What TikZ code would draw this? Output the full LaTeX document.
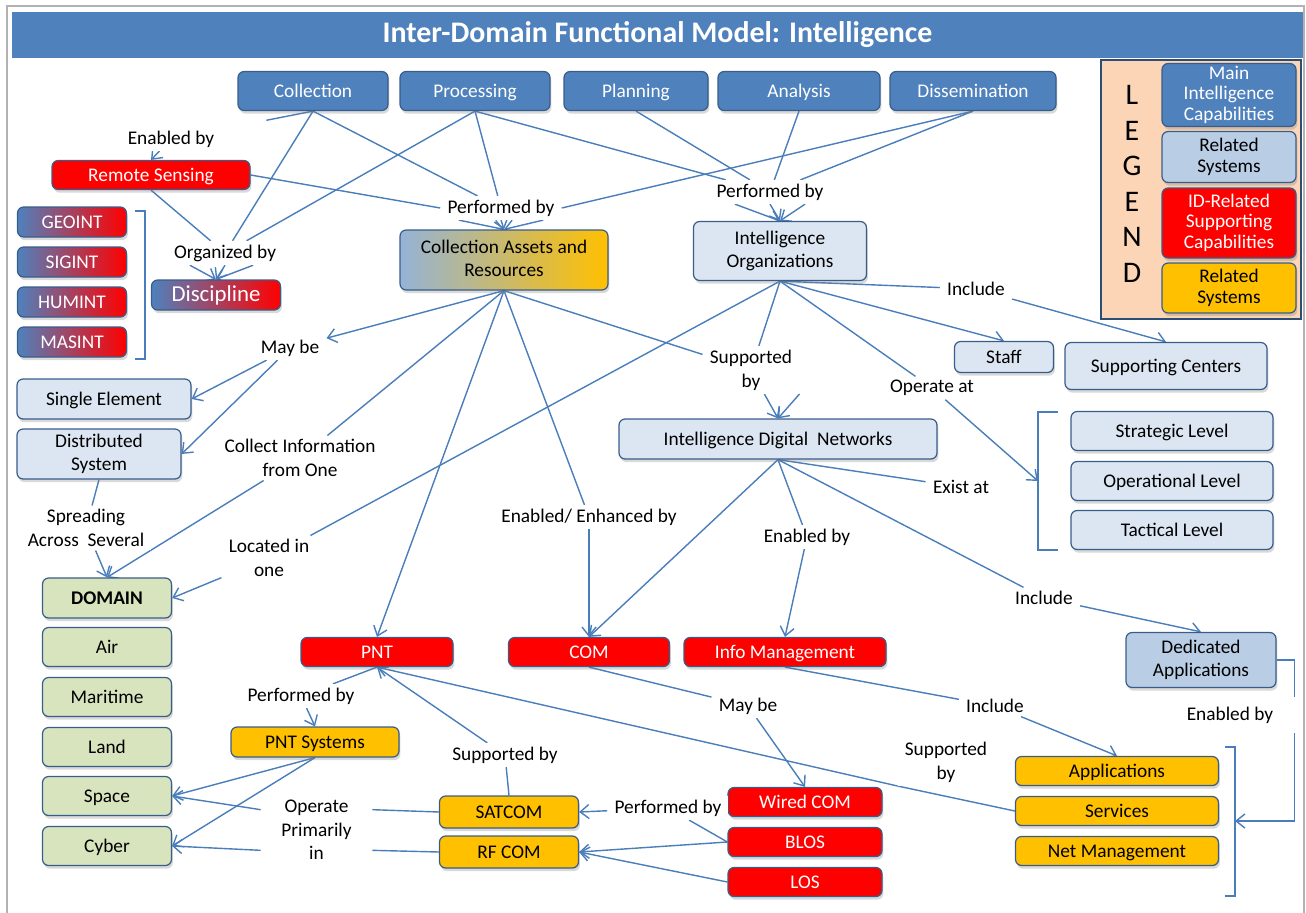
\documentclass[tikz,border=0pt]{standalone}
\usepackage{fontspec}
\setmainfont{Carlito}
\usetikzlibrary{arrows.meta,shadows,backgrounds}
\definecolor{mainblue}{HTML}{4F81BD}
\definecolor{edgeblue}{HTML}{385D8A}
\definecolor{relblue}{HTML}{DCE6F2}
\definecolor{midblue}{HTML}{B9CDE5}
\definecolor{gradblue}{HTML}{95B3D7}
\definecolor{gold}{HTML}{FFC000}
\definecolor{domgreen}{HTML}{D7E4BD}
\definecolor{peach}{HTML}{FBD5B5}
\definecolor{legframe}{HTML}{2C4D75}
\definecolor{lineblue}{HTML}{4A7EBB}
\definecolor{idred}{HTML}{FF0000}
\newcommand\nodestrut{\rule[-2pt]{0pt}{11pt}}

\begin{document}
\begin{tikzpicture}[x=0.02cm,y=-0.02cm,
    every node/.style={font=\fontsize{11}{13.5}\selectfont},
    sz/.style 2 args={minimum width=#1*0.02cm,minimum height=#2*0.02cm},
    box/.style={draw=edgeblue,line width=0.7pt,rounded corners=3.5pt,inner sep=1pt,align=center,
      execute at begin node=\nodestrut,execute at end node=\nodestrut,
      drop shadow={shadow xshift=0.8pt,shadow yshift=-1.8pt,opacity=0.3}},
    main/.style={box,fill=mainblue,text=white},
    rel/.style={box,fill=relblue},
    relb/.style={box,fill=midblue},
    idr/.style={box,fill=idred,text=white},
    sys/.style={box,fill=gold},
    dom/.style={box,fill=domgreen},
    grad/.style={box,left color=mainblue,right color=idred,text=white},
    lbl/.style={fill=white,align=center,inner xsep=4pt,inner ysep=2pt},
    arr/.style={-{Straight Barb[length=5pt,width=8pt]}},
    leg/.style={font=\fontsize{11}{11.5}\selectfont}]
  \useasboundingbox (0,0) rectangle (1306,913);
  \node[fill=mainblue,text=white,sz={1291}{46},font=\fontsize{17}{20}\selectfont\bfseries] (title) at (657.5,35)
    {Inter-Domain Functional Model: Intelligence};

  \node[draw=legframe,fill=peach,line width=1.6pt,sz={200}{259}] (legend) at (1201,189.5) {};
  \node[align=center,font=\fontsize{17}{20.2}\selectfont] (legl) at (1132,184) {L\\E\\G\\E\\N\\D};
  \node[main,leg,sz={134}{63}] (lg1) at (1229,95) {Main\\Intelligence\\Capabilities};
  \node[relb,leg,sz={134}{51}] (lg2) at (1229,157) {Related\\Systems};
  \node[idr,leg,sz={134}{70}] (lg3) at (1229,223) {ID-Related\\Supporting\\Capabilities};
  \node[sys,leg,sz={134}{50}] (lg4) at (1229,288) {Related\\Systems};

  \node[main,sz={150}{39}] (coll) at (313,91) {Collection};
  \node[main,sz={150}{39}] (proc) at (475,91) {Processing};
  \node[main,sz={144}{39}] (plan) at (636,91) {Planning};
  \node[main,sz={162}{39}] (anal) at (799,91) {Analysis};
  \node[main,sz={166}{39}] (diss) at (973,91) {Dissemination};

  \node[idr,sz={198}{29}] (rs) at (151,175) {Remote Sensing};
  \node[grad,sz={109}{30}] (geoint) at (72,222) {GEOINT};
  \node[grad,sz={109}{30}] (sigint) at (72,262) {SIGINT};
  \node[grad,sz={109}{30}] (humint) at (72,302) {HUMINT};
  \node[grad,sz={109}{30}] (masint) at (72,342) {MASINT};
  \node[grad,sz={129}{30},font=\fontsize{13}{15}\selectfont] (disc) at (216,295) {Discipline};
  \node[box,left color=gradblue,right color=gold,sz={208}{60}] (car) at (504,260) {Collection Assets and\\Resources};
  \node[rel,sz={173}{59}] (io) at (780,251) {Intelligence\\Organizations};
  \node[rel,sz={99}{31}] (staff) at (1004,357) {Staff};
  \node[rel,sz={202}{47}] (sc) at (1166,366) {Supporting Centers};
  \node[rel,sz={174}{40}] (single) at (104,399) {Single Element};
  \node[rel,sz={164}{50}] (dist) at (99,454) {Distributed\\System};
  \node[rel,sz={318}{40}] (idn) at (778,439) {Intelligence Digital~~Networks};
  \node[rel,sz={202}{39}] (strat) at (1172,431) {Strategic Level};
  \node[rel,sz={202}{39}] (oplev) at (1172,481) {Operational Level};
  \node[rel,sz={202}{39}] (tact) at (1172,530) {Tactical Level};

  \node[dom,sz={129}{40}] (domain) at (107,598) {\textbf{DOMAIN}};
  \node[dom,sz={129}{39}] (air) at (107,647) {Air};
  \node[dom,sz={129}{39}] (mar) at (107,697) {Maritime};
  \node[dom,sz={129}{39}] (land) at (107,747) {Land};
  \node[dom,sz={129}{39}] (space) at (107,796) {Space};
  \node[dom,sz={129}{39}] (cyber) at (107,846) {Cyber};

  \node[idr,sz={152}{29}] (pnt) at (377,652) {PNT};
  \node[idr,sz={161}{29}] (com) at (589,652) {COM};
  \node[idr,sz={202}{29}] (info) at (785,652) {Info Management};
  \node[relb,sz={150}{55}] (da) at (1201,660) {Dedicated\\Applications};
  \node[sys,sz={168}{30}] (pnts) at (315,742) {PNT Systems};
  \node[sys,sz={139}{32}] (satcom) at (509,812) {SATCOM};
  \node[sys,sz={139}{32}] (rfcom) at (509,852) {RF COM};
  \node[idr,sz={154}{29}] (wired) at (805,802) {Wired COM};
  \node[idr,sz={154}{29}] (blos) at (805,842) {BLOS};
  \node[idr,sz={154}{29}] (los) at (805,882) {LOS};
  \node[sys,sz={203}{29}] (apps) at (1117,771) {Applications};
  \node[sys,sz={203}{29}] (serv) at (1117,811) {Services};
  \node[sys,sz={203}{29}] (netm) at (1117,851) {Net Management};

  \node[lbl] (enb1) at (171,139) {Enabled by};
  \node[lbl] (pb1) at (501,208) {Performed by};
  \node[lbl] (pb2) at (770,192) {Performed by};
  \node[lbl] (org) at (225,253) {Organized by};
  \node[lbl] (maybe1) at (290,348) {May be};
  \node[lbl] (collect) at (300,458) {Collect Information\\from One};
  \node[lbl] (spread) at (86,528) {Spreading\\Across~~Several};
  \node[lbl] (loc) at (269,558) {Located in\\one};
  \node[lbl] (sup1) at (751,370) {Supported\\by};
  \node[lbl] (opat) at (932,388) {Operate at};
  \node[lbl] (inc1) at (976,289) {Include};
  \node[lbl] (enh) at (589,517) {Enabled/ Enhanced by};
  \node[lbl] (enb2) at (807,537) {Enabled by};
  \node[lbl] (exist) at (961,487) {Exist at};
  \node[lbl] (inc2) at (1044,598) {Include};
  \node[lbl] (pb3) at (301,696) {Performed by};
  \node[lbl] (sup2) at (505,755) {Supported by};
  \node[lbl,sz={111}{66}] (oper) at (316.5,830) {Operate\\Primarily\\in};
  \node[lbl] (pb4) at (668,808) {Performed by};
  \node[lbl] (maybe2) at (748,706) {May be};
  \node[lbl] (inc3) at (995,706) {Include};
  \node[lbl] (sup3) at (946,762) {Supported\\by};
  \node[lbl,sz={128}{36}] (enb3) at (1230,715) {Enabled by};

  \coordinate (lvlbr) at (1038,481);
  \coordinate (appbr) at (1235,821);

  \begin{scope}[on background layer={draw=lineblue,color=lineblue,line width=0.8pt}]
    \draw[gray!60,line width=1pt] (7,913) -- (7,6) -- (1304,6) -- (1304,913);
    \draw (135,211) -- (145,211) -- (145,359) -- (135,359);
    \draw (1058,412) -- (1038,412) -- (1038,550) -- (1058,550);
    \draw (1225,747) -- (1235,747) -- (1235,896) -- (1225,896);
    \path (coll.south) edge[shorten >=26pt] (enb1) edge (pb1) edge (org)
          (proc.south) edge (pb1) edge (org) edge (pb2)
          (plan.south) edge (pb2)
          (anal.south) edge (pb2)
          (diss.south) edge (pb2) edge (pb1.east)
          (rs.east) edge (pb1.west)
          (rs.south) edge (org)
          (car.south) edge (collect) edge (enh) edge (sup1)
          (dist.south) edge (spread)
          (io.south) edge (loc) edge (sup1) edge (opat) edge (inc1)
          (idn.south) edge (enb2) edge (exist) edge (inc2)
          (pnt.south) edge (pb3)
          (satcom.west) edge (oper.20)
          (rfcom.west) edge (oper.-20)
          (satcom.north) edge (sup2)
          (serv.west) edge (sup3.south west)
          (blos.west) edge (pb4)
          (com.south) edge (maybe2)
          (info.south) edge (inc3);
    \draw (da.east) -| (enb3.north east);
    \draw[arr] (enb3.south east) |- (appbr);
    \path[arr] (enb1) edge (rs.north)
          ([xshift=-24pt]pb1.south) edge (car.north)
          (pb1.south) edge (car.north)
          ([xshift=24pt]pb1.south) edge (car.north)
          ([xshift=-20pt]pb2.south) edge (io.north)
          (pb2.south) edge (io.north)
          ([xshift=20pt]pb2.south) edge (io.north)
          ([xshift=-20pt]org.south) edge (disc.north)
          (org.south) edge (disc.north)
          ([xshift=16pt]org.south) edge (disc.north)
          (car.south) edge (maybe1) edge (pnt.north)
          (maybe1) edge (single.east) edge (dist.east)
          (collect) edge (domain.north)
          (spread) edge (domain.north)
          (loc) edge (domain.east)
          (enh) edge (com.north)
          (sup1) edge (idn.north)
          (sup1.south east) edge (idn.north)
          (io.south) edge (staff.north)
          (inc1) edge (sc.north)
          (opat) edge (lvlbr)
          (idn.south) edge (com.north)
          (enb2) edge (info.north)
          (inc2) edge (da.north)
          (pb3) edge (pnts.north)
          (pnts.south) edge (space.east) edge (cyber.east)
          (oper.160) edge (space.east)
          (oper.200) edge (cyber.east)
          (sup2) edge (pnt.south)
          (sup3.south west) edge (pnt.south)
          (pb4) edge (satcom.east)
          (blos.west) edge (rfcom.east)
          (los.west) edge (rfcom.east)
          (maybe2) edge (wired.north)
          (inc3) edge (apps.north);
  \end{scope}
\end{tikzpicture}
\end{document}
